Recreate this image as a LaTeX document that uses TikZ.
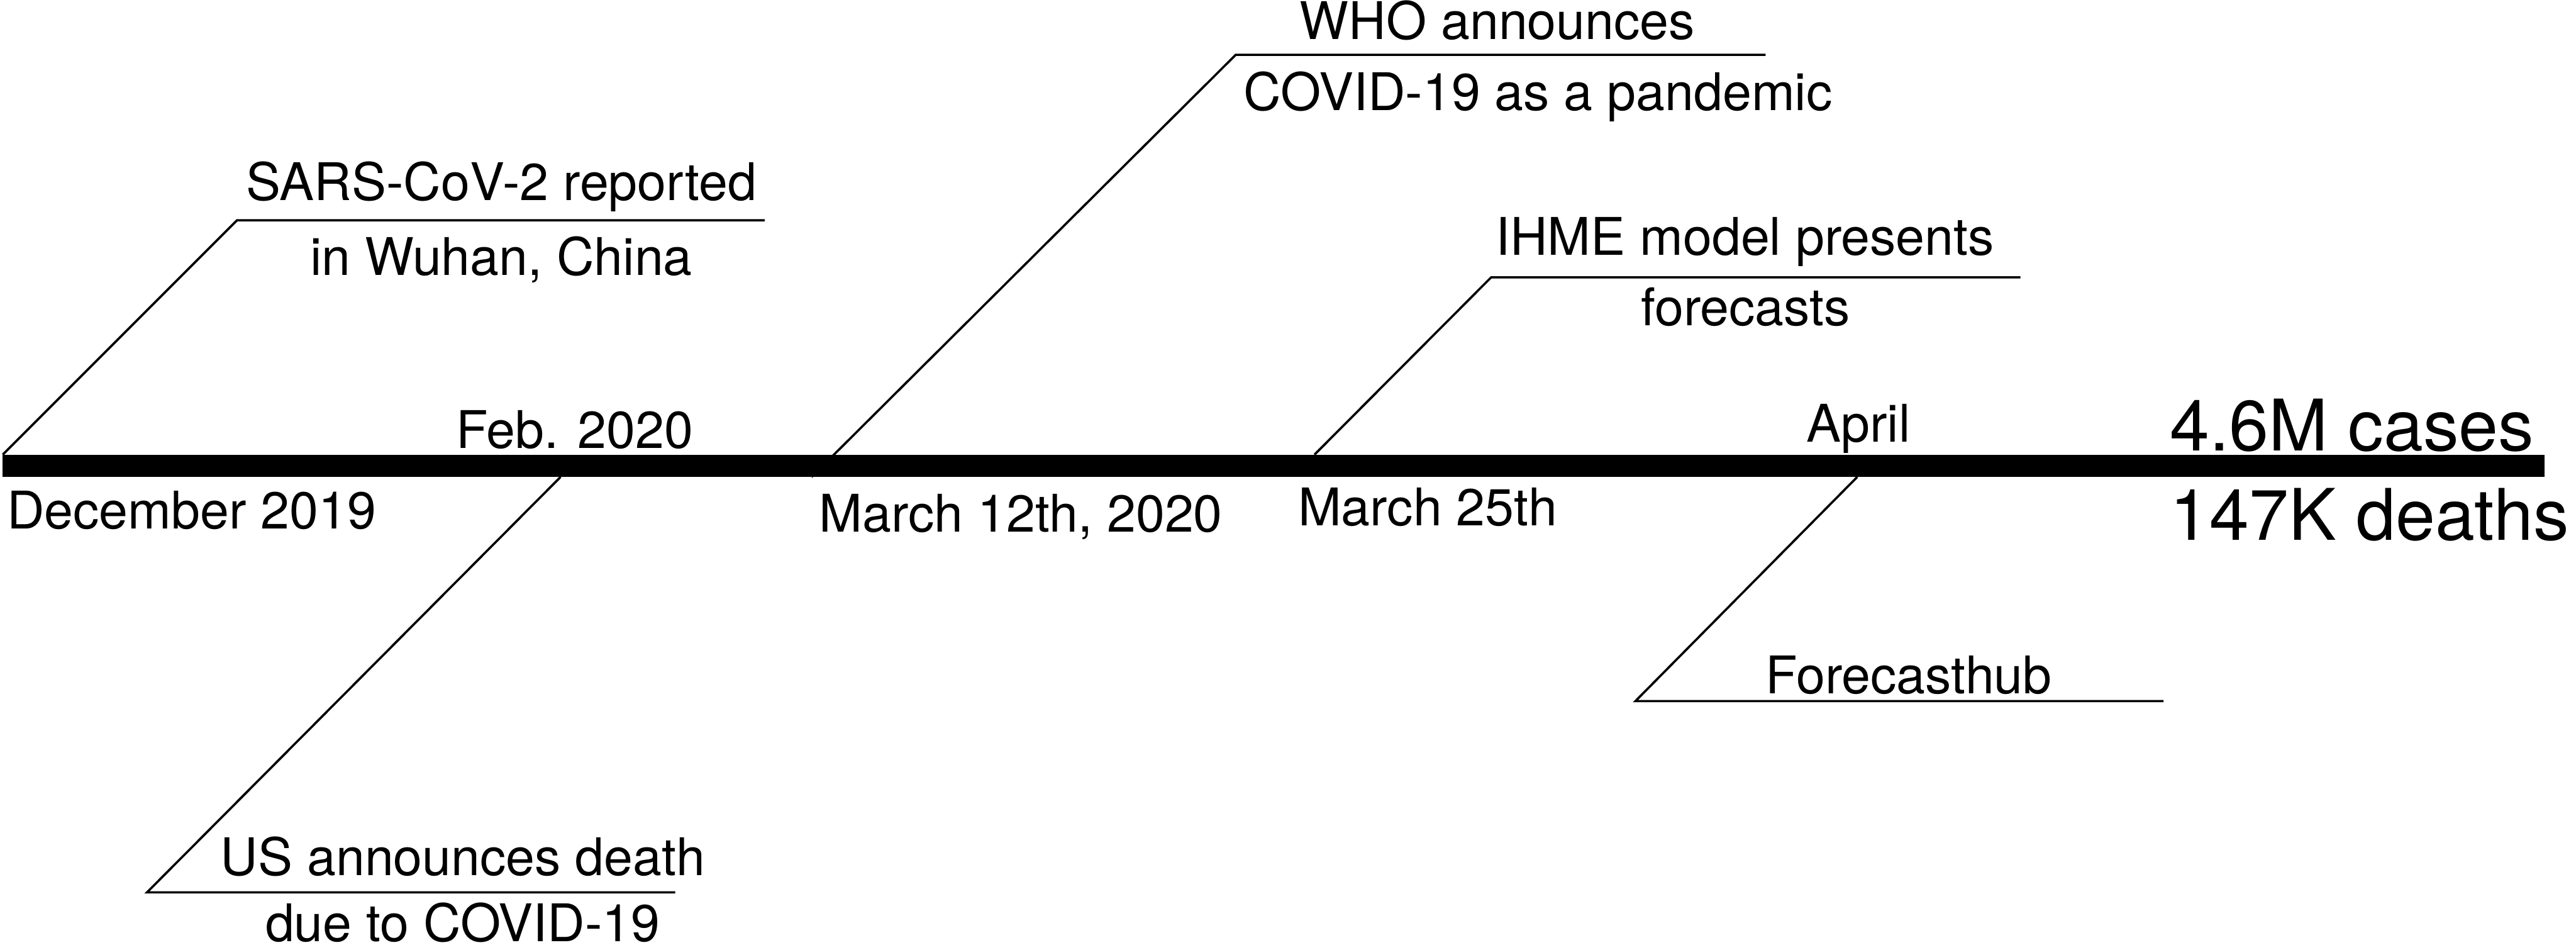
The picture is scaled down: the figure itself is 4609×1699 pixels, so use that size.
\documentclass[tikz,border=0pt]{standalone}
\usepackage{fontspec}
\setmainfont{TeX Gyre Heros}
\usetikzlibrary{positioning}

\tikzset{
  evtext/.style={font=\fontsize{26.4}{30}\selectfont, anchor=base, inner sep=0pt},
  datetext/.style={font=\fontsize{26.4}{30}\selectfont, anchor=base west, inner sep=0pt},
  bigtext/.style={font=\fontsize{36.2}{40}\selectfont, anchor=base west, inner sep=0pt},
  leader/.style={line width=1.15pt, line join=miter}
}

\begin{document}
\begin{tikzpicture}[x=0.01cm,y=-0.01cm]
\useasboundingbox (0,0) rectangle (4609,1699);

% leader lines: bar point, knee, end of underline
\coordinate (sarsA) at (5,813);    \coordinate (sarsB) at (424,394);   \coordinate (sarsC) at (1368,394);
\coordinate (usA) at (1003,853);   \coordinate (usB) at (263,1596);    \coordinate (usC) at (1208,1596);
\coordinate (whoA) at (1452,853);  \coordinate (whoB) at (2211,98);    \coordinate (whoC) at (3159,98);
\coordinate (ihmeA) at (2352,813); \coordinate (ihmeB) at (2668,496);  \coordinate (ihmeC) at (3615,496);
\coordinate (hubA) at (3323,853);  \coordinate (hubB) at (2926,1254);  \coordinate (hubC) at (3871,1254);

\draw[leader] (sarsA) -- (sarsB) -- (sarsC);
\draw[leader] (usA) -- (usB) -- (usC);
\draw[leader] (whoA) -- (whoB) -- (whoC);
\draw[leader] (ihmeA) -- (ihmeB) -- (ihmeC);
\draw[leader] (hubA) -- (hubB) -- (hubC);

% timeline
\fill[black] (5,813) rectangle (4553,853);

% dates
\node[datetext] (dec) at (12,946) {December 2019};
\node[evtext] (feb) at (1028,802) {Feb. 2020};
\node[datetext] (mar12) at (1465,951) {March 12th, 2020};
\node[datetext] (mar25) at (2322,940) {March 25th};
\node[evtext] (apr) at (3325,790) {April};

% events
\node[evtext] (sars1) at (897,358) {SARS-CoV-2 reported};
\node[evtext] (sars2) at (897,492) {in Wuhan, China};
\node[evtext] (us1) at (828,1566) {US announces death};
\node[evtext] (us2) at (828,1684) {due to COVID-19};
\node[evtext] (who1) at (2679,70) {WHO announces};
\node[evtext] (who2) at (2752,198) {COVID-19 as a pandemic};
\node[evtext] (ihme1) at (3122,456) {IHME model presents};
\node[evtext] (ihme2) at (3123,582) {forecasts};
\node[evtext] (hub) at (3415,1241) {Forecasthub};

% totals
\node[bigtext] (cases) at (3882,806) {4.6M cases};
\node[bigtext] (deaths) at (3882,966) {147K deaths};

\end{tikzpicture}
\end{document}
